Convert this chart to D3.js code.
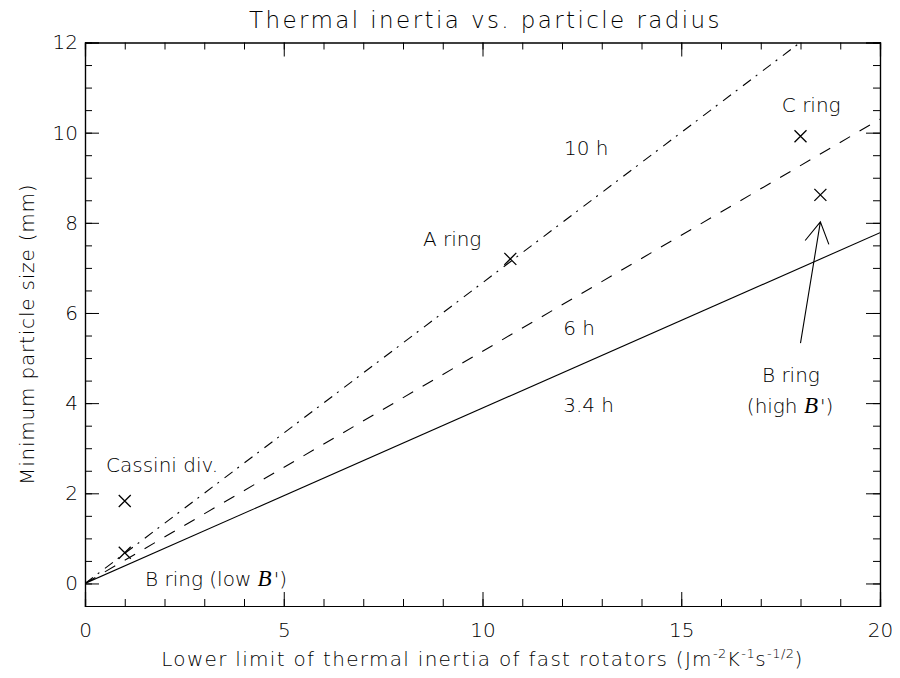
<!DOCTYPE html>
<html>
<head>
<meta charset="utf-8">
<script src="https://cdn.jsdelivr.net/npm/d3@7"></script>
<style>
  html, body { margin: 0; padding: 0; background: #fff; }
  svg text { font-family: "DejaVu Sans", sans-serif; font-weight: 200; fill: #000; }
  .axis path { stroke: #000; stroke-width: 1.2; }
  .axis line { stroke: #000; stroke-width: 1; }
  .axis text { font-size: 20px; }
</style>
</head>
<body>
<svg id="chart" width="900" height="678"></svg>
<script>
// Rotation-period lines: particle size grows linearly with thermal inertia
const periodLabels = ["3.4 h", "6 h", "10 h"];
const periodSlopes = [0.389, 0.515, 0.667];       // mm per unit of thermal inertia
const periodDash   = [null, "12,11", "10,6,2,7"];

// Ring measurements
const ringNames = ["Cassini div.", "B ring (low B')", "A ring", "C ring", "B ring (high B')"];
const ringX = [1.0, 1.0, 10.7, 18.0, 18.5];
const ringY = [1.83, 0.68, 7.2, 9.92, 8.62];

// Tick values
const xMajorTicks = [0, 5, 10, 15, 20];
const xMinorTicks = d3.range(0, 21, 1);
const yMajorTicks = [0, 2, 4, 6, 8, 10, 12];
const yMinorTicks = d3.range(-0.5, 12.01, 0.5);

// Annotation text, anchored in data coordinates (start of baseline)
const noteText = ["10 h", "6 h", "3.4 h", "A ring", "C ring", "Cassini div.", "B ring (low ", "B ring", "(high "];
const noteX = [12.05, 12.03, 12.03, 8.5, 17.53, 0.53, 1.51, 17.03, 16.65];
const noteY = [9.5, 5.51, 3.8, 7.49, 10.46, 2.47, -0.05, 4.47, 3.78];
const notePrime = [false, false, false, false, false, false, true, false, true];

// Arrow pointing at the high-B' B ring point
const arrowFrom = [18.0, 5.33];
const arrowTo = [18.5, 8.02];

const svg = d3.select("#chart");
const margin = { left: 85, right: 20, top: 42.5, bottom: 72 };
const W = 900, H = 678;
const x = d3.scaleLinear().domain([0, 20]).range([margin.left, W - margin.right]);
const y = d3.scaleLinear().domain([-0.5, 12]).range([H - margin.bottom, margin.top]);

const x0 = x.range()[0], x1 = x.range()[1];
const yb = y.range()[0], yt = y.range()[1];

// clip for the lines
svg.append("clipPath").attr("id", "plotClip")
  .append("rect").attr("x", x0).attr("y", yt).attr("width", x1 - x0).attr("height", yb - yt);

// Axes on all four sides, ticks pointing inward
function addAxis(gen, transform, ticks, size, labels) {
  const g = svg.append("g").attr("class", "axis").attr("transform", transform)
    .call(gen.tickValues(ticks).tickSize(-size).tickPadding(labels ? labels.pad : 0)
      .tickFormat(labels ? d3.format("d") : ""));
  return g;
}
addAxis(d3.axisBottom(x), `translate(0,${yb})`, xMinorTicks, 7, null);
addAxis(d3.axisBottom(x), `translate(0,${yb})`, xMajorTicks, 14, { pad: 17 });
addAxis(d3.axisTop(x), `translate(0,${yt})`, xMinorTicks, 7, null);
addAxis(d3.axisTop(x), `translate(0,${yt})`, xMajorTicks, 14, null);
addAxis(d3.axisLeft(y), `translate(${x0},0)`, yMinorTicks, 7, null);
addAxis(d3.axisLeft(y), `translate(${x0},0)`, yMajorTicks, 14, { pad: 7 });
addAxis(d3.axisRight(y), `translate(${x1},0)`, yMinorTicks, 7, null);
addAxis(d3.axisRight(y), `translate(${x1},0)`, yMajorTicks, 14, null);
svg.selectAll(".axis .domain").attr("stroke-width", 1.2);

// Period lines
const line = d3.line().x(d => x(d[0])).y(d => y(d[1]));
const linesG = svg.append("g").attr("clip-path", "url(#plotClip)");
periodSlopes.forEach((s, i) => {
  linesG.append("path")
    .attr("d", line([[0, 0], [20, 20 * s]]))
    .attr("fill", "none").attr("stroke", "#000").attr("stroke-width", 1.1)
    .attr("stroke-dasharray", periodDash[i]);
});

// X markers
const mk = 6;
svg.append("g").selectAll("path").data(ringX.map((v, i) => [v, ringY[i]])).join("path")
  .attr("d", d => {
    const px = x(d[0]), py = y(d[1]);
    return `M${px - mk},${py - mk}L${px + mk},${py + mk}M${px - mk},${py + mk}L${px + mk},${py - mk}`;
  })
  .attr("stroke", "#000").attr("stroke-width", 1.3).attr("fill", "none");

// Annotations
const notes = svg.append("g");
noteText.forEach((t, i) => {
  const tx = notes.append("text").attr("x", x(noteX[i])).attr("y", y(noteY[i]))
    .attr("font-size", 20).attr("xml:space", "preserve");
  tx.append("tspan").text(t);
  if (notePrime[i]) {
    tx.append("tspan").attr("font-family", "Liberation Serif, DejaVu Serif, serif")
      .attr("font-style", "italic").attr("font-weight", 400).attr("font-size", 23).text("B");
    tx.append("tspan").attr("dx", 2).text("')");
  }
});

// Arrow
const ax0 = x(arrowFrom[0]), ay0 = y(arrowFrom[1]);
const ax1 = x(arrowTo[0]), ay1 = y(arrowTo[1]);
const ang = Math.atan2(ay0 - ay1, ax0 - ax1);
const head = 24, spread = Math.PI / 6;
svg.append("path")
  .attr("d", `M${ax0},${ay0}L${ax1},${ay1}` +
    `M${ax1 + head * Math.cos(ang - spread)},${ay1 + head * Math.sin(ang - spread)}L${ax1},${ay1}` +
    `L${ax1 + head * Math.cos(ang + spread)},${ay1 + head * Math.sin(ang + spread)}`)
  .attr("fill", "none").attr("stroke", "#000").attr("stroke-width", 1.1);

// Title
svg.append("text").attr("x", (x0 + x1) / 2 + 3).attr("y", 28).attr("text-anchor", "middle")
  .attr("font-size", 23).attr("letter-spacing", 2.4).text("Thermal inertia vs. particle radius");

// X axis title with superscripts
const xt = svg.append("text").attr("x", (x0 + x1) / 2).attr("y", 666).attr("text-anchor", "middle")
  .attr("font-size", 20).attr("letter-spacing", 1.3);
xt.append("tspan").text("Lower limit of thermal inertia of fast rotators (Jm");
xt.append("tspan").attr("font-size", 13).attr("dy", -8).attr("letter-spacing", 0.5).text("-2");
xt.append("tspan").attr("dy", 8).text("K");
xt.append("tspan").attr("font-size", 13).attr("dy", -8).attr("letter-spacing", 0.5).text("-1");
xt.append("tspan").attr("dy", 8).text("s");
xt.append("tspan").attr("font-size", 13).attr("dy", -8).attr("letter-spacing", 0.5).text("-1/2");
xt.append("tspan").attr("dy", 8).text(")");

// Y axis title
svg.append("text").attr("transform", `translate(34,${(yt + yb) / 2 + 10}) rotate(-90)`)
  .attr("text-anchor", "middle").attr("font-size", 20).attr("letter-spacing", 0.8)
  .text("Minimum particle size (mm)");
</script>
</body>
</html>
